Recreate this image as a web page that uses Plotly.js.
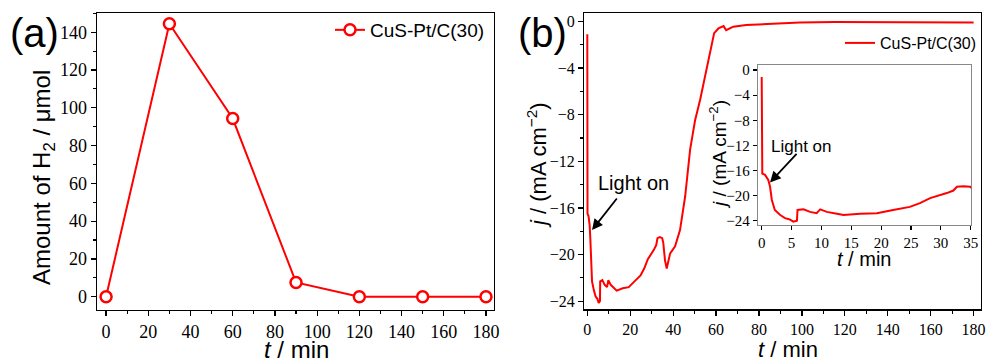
<!DOCTYPE html>
<html>
<head>
<meta charset="utf-8">
<script src="https://cdn.plot.ly/plotly-3.0.1.min.js"></script>
<style>html,body{margin:0;padding:0;background:#fff}#chart{width:987px;height:360px}</style>
</head>
<body>
<div id="chart"></div>
<script>
// Panel (a): H2 amount vs time
const timeA = [0, 30, 60, 90, 120, 150, 180];
const h2Amount = [0, 144.5, 94.3, 7.6, 0, 0, 0];

// Panel (b): photocurrent density vs time (main + inset share data)
const timeB = [0, 0.1, 0.56, 1.1, 1.4, 1.7, 2.2, 3.1, 3.9, 4.7, 5.3, 5.9, 6.0, 7.0, 8.1, 9.2, 9.8, 10.9, 12.6, 13.7, 16.5, 19.3, 22.0, 24.8, 26.5, 28.2, 31.0, 32.1, 32.7, 33.8, 34.9, 35.4, 36.2, 37.0, 38.6, 40.9, 43.2, 45.6, 47.9, 50.2, 52.6, 54.9, 57.2, 59.1, 61.1, 63.5, 64.7, 68, 74, 83.7, 99, 115, 140, 160, 180];
const currentB = [-1.1, -16.5, -16.7, -17.5, -18.6, -20.7, -22.3, -23.1, -23.6, -23.8, -24.15, -24.0, -22.3, -22.2, -22.6, -22.8, -22.2, -22.6, -22.9, -23.1, -22.9, -22.8, -22.3, -21.8, -21.2, -20.4, -19.6, -19.2, -18.6, -18.5, -18.6, -19.0, -20.5, -21.2, -19.9, -19.3, -17.9, -15.0, -11.0, -8.5, -6.7, -4.7, -2.5, -1.0, -0.6, -0.4, -0.75, -0.45, -0.3, -0.23, -0.1, -0.05, -0.05, -0.06, -0.08];

const seriesName = 'CuS-Pt/C(30)';
const xTitle = '<i>t</i> / min';
const yTitleA = 'Amount of H<sub>2</sub> / μmol';
const yTitleB = '<i>j</i> / (mA cm<sup>−2</sup>)';
const RED = '#ff0000';
const SERIF = 'Liberation Serif';
const SANS = 'Liberation Sans';

const W = 987, H = 360;
const px = v => v / W, py = v => 1 - v / H;

const traces = [
  {x: timeA, y: h2Amount, xaxis: 'x', yaxis: 'y', type: 'scatter', mode: 'lines+markers',
   name: seriesName, legend: 'legend',
   line: {color: RED, width: 2},
   marker: {symbol: 'circle', size: 11, color: '#fff', line: {color: RED, width: 2.5}}},
  {x: timeB, y: currentB, xaxis: 'x2', yaxis: 'y2', type: 'scatter', mode: 'lines',
   name: seriesName, legend: 'legend2', line: {color: RED, width: 2}},
  {x: timeB, y: currentB, xaxis: 'x3', yaxis: 'y3', type: 'scatter', mode: 'lines',
   showlegend: false, line: {color: RED, width: 2}}
];

function axis(size, o) {
  return Object.assign({
    showline: true, mirror: true, linecolor: 'black', linewidth: 1.3,
    ticks: 'outside', ticklen: 5, tickwidth: 1.2, tickcolor: 'black',
    showgrid: false, zeroline: false, fixedrange: true,
    tickfont: {family: SERIF, size: size, color: 'black'}
  }, o);
}

function label(x, y, text, size, angle) {
  return {xref: 'paper', yref: 'paper', x: px(x), y: py(y), text: text, showarrow: false,
    textangle: angle || 0, xanchor: 'center', yanchor: 'middle',
    font: {family: SANS, size: size, color: 'black'}};
}

const layout = {
  width: W, height: H,
  font: {family: SANS, color: 'black'},
  margin: {l: 0, r: 0, t: 0, b: 0},
  paper_bgcolor: '#fff', plot_bgcolor: '#fff',
  xaxis: axis(18, {domain: [px(97), px(494)], range: [-4.3, 183.8], dtick: 20, tick0: 0, anchor: 'y',
    minor: {dtick: 10, ticks: 'outside', ticklen: 3}}),
  yaxis: axis(18, {domain: [py(310), py(13.3)], range: [-7, 150], dtick: 20, tick0: 0, anchor: 'x',
    minor: {dtick: 10, ticks: 'outside', ticklen: 3}}),
  xaxis2: axis(16, {domain: [px(584.3), px(980.7)], range: [-1.4, 183.3], dtick: 20, tick0: 0, anchor: 'y2',
    minor: {dtick: 10, ticks: 'outside', ticklen: 3}}),
  yaxis2: axis(16, {domain: [py(309.3), py(13.3)], range: [-24.7, 0.7], dtick: 4, tick0: 0, anchor: 'x2',
    minor: {dtick: 2, ticks: 'outside', ticklen: 3}}),
  xaxis3: axis(15, {domain: [px(757.7), px(971.3)], range: [-0.67, 35.1], dtick: 5, tick0: 0, anchor: 'y3',
    linecolor: '#888', linewidth: 1, ticklen: 4}),
  yaxis3: axis(15, {domain: [py(224.7), py(64.7)], range: [-24.64, 0.85], dtick: 4, tick0: 0, anchor: 'x3',
    linecolor: '#888', linewidth: 1, ticklen: 4}),
  legend: {x: px(330), y: py(30), xanchor: 'left', yanchor: 'middle', bgcolor: 'rgba(0,0,0,0)',
    font: {family: SANS, size: 19, color: 'black'}},
  legend2: {x: px(840), y: py(43), xanchor: 'left', yanchor: 'middle', bgcolor: 'rgba(0,0,0,0)',
    font: {family: SANS, size: 16, color: 'black'}},
  annotations: [
    label(34, 33, '(a)', 40),
    label(542, 33, '(b)', 40),
    label(296, 349, xTitle, 24),
    label(788, 349, xTitle, 22),
    label(864, 259, xTitle, 20),
    label(43, 178, yTitleA, 24, -90),
    label(537, 165, yTitleB, 22, -90),
    label(718, 155, yTitleB, 19, -90),
    {xref: 'x2', yref: 'y2', x: 2.2, y: -17.9, text: '', showarrow: true,
     ax: 26, ay: -33, arrowhead: 2, arrowsize: 1.2, arrowwidth: 1.8, arrowcolor: 'black'},
    label(633, 183, 'Light on', 20),
    {xref: 'x3', yref: 'y3', x: 1.39, y: -17.9, text: '', showarrow: true,
     ax: 28, ay: -30, arrowhead: 2, arrowsize: 1.2, arrowwidth: 1.8, arrowcolor: 'black'},
    label(801, 146.7, 'Light on', 17)
  ]
};

Plotly.newPlot('chart', traces, layout, {displayModeBar: false, staticPlot: true});
</script>
</body>
</html>
